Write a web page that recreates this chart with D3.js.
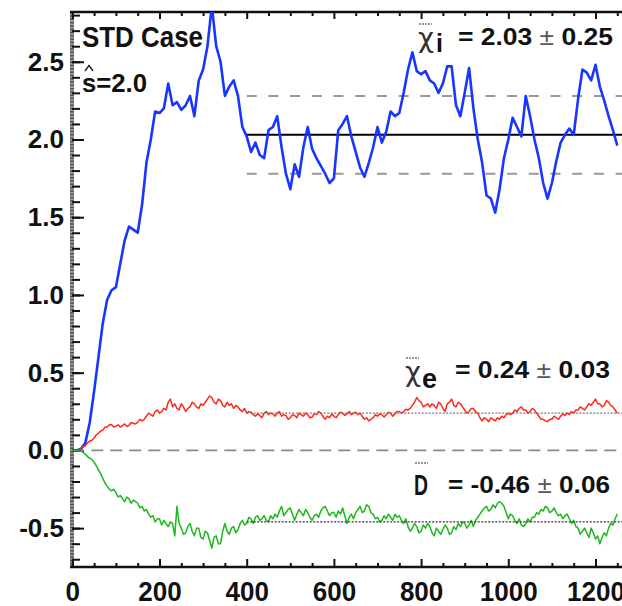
<!DOCTYPE html>
<html>
<head>
<meta charset="utf-8">
<script src="https://cdn.jsdelivr.net/npm/d3@7"></script>
<style>
  html, body { margin: 0; padding: 0; background: #fff; }
  svg { display: block; font-family: "Liberation Sans", Arial, Helvetica, sans-serif; }
</style>
</head>
<body>
<svg id="chart" width="622" height="606"></svg>
<script>
// chi_i sampled every 10 iterations, chi_e and D every 5, all from 0
var stepI = 10, stepED = 5

var chiI = [0, 0, 0.01, 0.05, 0.18, 0.38, 0.6, 0.82, 0.97, 1.03,
  1.05, 1.2, 1.35, 1.44, 1.42, 1.4, 1.58, 1.85, 2.0, 2.18,
  2.17, 2.2, 2.36, 2.22, 2.24, 2.19, 2.22, 2.28, 2.15, 2.38,
  2.45, 2.6, 2.86, 2.6, 2.5, 2.28, 2.34, 2.38, 2.28, 2.08,
  2.02, 1.92, 1.98, 1.9, 1.88, 2.06, 2.08, 2.15, 1.95, 1.78,
  1.68, 1.84, 1.76, 1.95, 2.08, 1.94, 1.88, 1.83, 1.78, 1.72,
  1.75, 2.06, 2.1, 2.15, 2.02, 1.92, 1.82, 1.76, 1.85, 1.95,
  2.08, 1.98, 2.05, 2.18, 2.15, 2.17, 2.3, 2.45, 2.56, 2.44,
  2.42, 2.44, 2.38, 2.36, 2.3, 2.36, 2.47, 2.47, 2.22, 2.15,
  2.3, 2.46, 2.2, 2.0, 1.85, 1.64, 1.62, 1.53, 1.68, 1.88,
  2.0, 2.14, 2.08, 2.02, 2.28, 2.15, 2.0, 1.88, 1.72, 1.62,
  1.72, 1.86, 1.98, 2.03, 2.07, 2.03, 2.26, 2.45, 2.43, 2.38,
  2.48, 2.34, 2.25, 2.15, 2.06, 1.96]

var chiE = [0, 0, 0, 0.005, 0.01, 0.025, 0.03, 0.05, 0.06, 0.065,
  0.08, 0.1, 0.11, 0.125, 0.13, 0.15, 0.15, 0.165, 0.165, 0.15,
  0.155, 0.165, 0.15, 0.16, 0.17, 0.155, 0.16, 0.18, 0.175, 0.17,
  0.18, 0.2, 0.19, 0.2, 0.22, 0.24, 0.23, 0.22, 0.25, 0.26,
  0.24, 0.25, 0.27, 0.26, 0.31, 0.33, 0.28, 0.3, 0.27, 0.26,
  0.3, 0.28, 0.25, 0.27, 0.28, 0.31, 0.3, 0.28, 0.27, 0.3,
  0.29, 0.31, 0.33, 0.35, 0.34, 0.31, 0.3, 0.33, 0.32, 0.29,
  0.28, 0.31, 0.29, 0.3, 0.27, 0.29, 0.28, 0.26, 0.25, 0.27,
  0.24, 0.25, 0.245, 0.23, 0.22, 0.235, 0.225, 0.21, 0.24, 0.25,
  0.23, 0.24, 0.235, 0.22, 0.24, 0.25, 0.22, 0.23, 0.225, 0.2,
  0.21, 0.23, 0.225, 0.21, 0.24, 0.23, 0.22, 0.24, 0.23, 0.21,
  0.215, 0.235, 0.23, 0.25, 0.24, 0.22, 0.2, 0.22, 0.21, 0.235,
  0.22, 0.21, 0.23, 0.245, 0.24, 0.225, 0.235, 0.25, 0.23, 0.24,
  0.245, 0.23, 0.24, 0.22, 0.2, 0.21, 0.19, 0.2, 0.21, 0.23,
  0.22, 0.235, 0.23, 0.215, 0.23, 0.245, 0.24, 0.22, 0.235, 0.25,
  0.25, 0.24, 0.25, 0.265, 0.26, 0.27, 0.29, 0.31, 0.34, 0.32,
  0.31, 0.28, 0.29, 0.3, 0.28, 0.3, 0.29, 0.27, 0.31, 0.3,
  0.27, 0.25, 0.3, 0.31, 0.33, 0.29, 0.28, 0.31, 0.3, 0.28,
  0.26, 0.24, 0.25, 0.27, 0.27, 0.25, 0.24, 0.21, 0.19, 0.21,
  0.2, 0.185, 0.21, 0.2, 0.19, 0.21, 0.2, 0.22, 0.21, 0.23,
  0.24, 0.23, 0.24, 0.26, 0.25, 0.27, 0.28, 0.26, 0.26, 0.24,
  0.25, 0.27, 0.26, 0.24, 0.22, 0.2, 0.2, 0.19, 0.185, 0.2,
  0.2, 0.22, 0.21, 0.2, 0.22, 0.235, 0.225, 0.24, 0.23, 0.25,
  0.24, 0.26, 0.26, 0.28, 0.27, 0.26, 0.28, 0.3, 0.29, 0.31,
  0.33, 0.3, 0.3, 0.28, 0.29, 0.32, 0.31, 0.29, 0.28, 0.26,
  0.24]

var diffD = [0, 0, 0, -0.003, -0.005, -0.015, -0.025, -0.04, -0.05, -0.06,
  -0.075, -0.1, -0.125, -0.15, -0.18, -0.21, -0.23, -0.25, -0.26, -0.25,
  -0.27, -0.3, -0.29, -0.31, -0.33, -0.3, -0.31, -0.34, -0.32, -0.33,
  -0.34, -0.37, -0.36, -0.39, -0.38, -0.41, -0.43, -0.42, -0.46, -0.44,
  -0.44, -0.48, -0.45, -0.47, -0.49, -0.46, -0.47, -0.55, -0.36, -0.47,
  -0.5, -0.54, -0.53, -0.49, -0.47, -0.52, -0.55, -0.5, -0.5, -0.56,
  -0.57, -0.52, -0.53, -0.58, -0.63, -0.56, -0.55, -0.6, -0.6, -0.52,
  -0.47, -0.52, -0.54, -0.5, -0.49, -0.53, -0.51, -0.47, -0.45, -0.48,
  -0.47, -0.43, -0.44, -0.47, -0.43, -0.42, -0.45, -0.44, -0.42, -0.45,
  -0.46, -0.42, -0.44, -0.41, -0.43, -0.39, -0.36, -0.42, -0.4, -0.38,
  -0.37, -0.41, -0.45, -0.41, -0.38, -0.4, -0.42, -0.38, -0.4, -0.43,
  -0.45, -0.42, -0.41, -0.43, -0.39, -0.37, -0.36, -0.39, -0.42, -0.4,
  -0.4, -0.43, -0.39, -0.41, -0.37, -0.42, -0.47, -0.43, -0.41, -0.44,
  -0.4, -0.38, -0.36, -0.4, -0.39, -0.35, -0.36, -0.4, -0.41, -0.44,
  -0.43, -0.46, -0.45, -0.42, -0.44, -0.41, -0.43, -0.45, -0.41, -0.43,
  -0.42, -0.45, -0.47, -0.44, -0.49, -0.52, -0.5, -0.47, -0.49, -0.53,
  -0.52, -0.48, -0.5, -0.47, -0.49, -0.53, -0.55, -0.5, -0.52, -0.54,
  -0.51, -0.48, -0.5, -0.54, -0.53, -0.49, -0.51, -0.47, -0.49, -0.46,
  -0.47, -0.5, -0.48, -0.45, -0.49, -0.45, -0.43, -0.41, -0.39, -0.37,
  -0.36, -0.39, -0.38, -0.35, -0.37, -0.34, -0.33, -0.34, -0.36, -0.4,
  -0.44, -0.41, -0.42, -0.45, -0.47, -0.44, -0.48, -0.49, -0.47, -0.44,
  -0.46, -0.43, -0.43, -0.4, -0.41, -0.38, -0.39, -0.36, -0.37, -0.4,
  -0.39, -0.37, -0.4, -0.42, -0.41, -0.44, -0.42, -0.41, -0.44, -0.47,
  -0.45, -0.49, -0.5, -0.54, -0.52, -0.5, -0.53, -0.56, -0.5, -0.53,
  -0.57, -0.55, -0.6, -0.56, -0.53, -0.55, -0.5, -0.47, -0.48, -0.44,
  -0.41]

var seriesColors = ['#1836ff', '#ff2a1a', '#1cb81c']
var meanValues = [2.03, 0.24, -0.46]
var meanSpreads = [0.25, 0.03, 0.06]
var meanFrom = 400

var xTicks = [0, 200, 400, 600, 800, 1000, 1200]
var yTicks = [-0.5, 0.0, 0.5, 1.0, 1.5, 2.0, 2.5]

var
  svg = d3.select('#chart'),
  x = d3.scaleLinear().domain([0, 1300]).range([72.3, 72.3 + 1300 * 0.436]),
  y = d3.scaleLinear().domain([-0.75, 2.82]).range([567, 12]),
  pLeft = 72, pTop = 12, pBottom = 567, pRight = 640

// plain hyphen minus, like the original
function num(f) {
  return function(d) { return f(d).replace('\u2212', '-') }
}

svg.append('clipPath').attr('id', 'plotclip')
  .append('rect').attr('x', pLeft).attr('y', pTop).attr('width', pRight - pLeft).attr('height', pBottom - pTop)

// minor ticks
var minorX = d3.range(0, 1301, 50).filter(function(d) { return d % 200 != 0 })
var minorY = d3.range(-0.7, 2.81, 0.1).map(function(d) { return Math.round(d * 10) / 10 })

var axes = svg.append('g')

// left axis band (looks hatched in the original)
axes.append('line').attr('x1', pLeft).attr('x2', pLeft).attr('y1', pTop).attr('y2', pBottom)
  .attr('stroke', '#9a9a9a').attr('stroke-width', 4)
axes.append('line').attr('x1', pLeft).attr('x2', pLeft).attr('y1', pTop).attr('y2', pBottom)
  .attr('stroke', '#555').attr('stroke-width', 4).attr('stroke-dasharray', '1.5,1.8')

axes.append('g').attr('transform', 'translate(' + pLeft + ',0)')
  .call(d3.axisLeft(y).tickValues(minorY).tickSize(-8).tickFormat(''))
axes.append('g').attr('class', 'yaxis').attr('transform', 'translate(' + pLeft + ',0)')
  .call(d3.axisLeft(y).tickValues(yTicks).tickSize(-12).tickPadding(8).tickFormat(num(d3.format('.1f'))))

axes.append('g').attr('transform', 'translate(0,' + pBottom + ')')
  .call(d3.axisBottom(x).tickValues(minorX).tickSize(-4).tickFormat(''))
axes.append('g').attr('class', 'xaxis').attr('transform', 'translate(0,' + pBottom + ')')
  .call(d3.axisBottom(x).tickValues(xTicks).tickSize(-8).tickPadding(14).tickFormat(d3.format('d')))

axes.append('g').attr('transform', 'translate(0,' + pTop + ')')
  .call(d3.axisTop(x).tickValues(minorX).tickSize(-4).tickFormat(''))
axes.append('g').attr('transform', 'translate(0,' + pTop + ')')
  .call(d3.axisTop(x).tickValues(xTicks).tickSize(-7).tickFormat(''))

axes.selectAll('.domain').remove()
axes.selectAll('.tick line').attr('stroke', '#111').attr('stroke-width', 2)

axes.selectAll('.yaxis text')
  .attr('font-size', 26).attr('font-weight', 'bold').attr('fill', '#111')
  .attr('font-family', '"Liberation Sans", Arial, sans-serif')
axes.selectAll('.xaxis text')
  .attr('font-size', 28).attr('font-weight', 'bold').attr('fill', '#111')
  .attr('font-family', '"Liberation Sans", Arial, sans-serif')
  .attr('transform', 'scale(0.93,1)')

axes.append('line').attr('x1', pLeft - 2).attr('x2', 622).attr('y1', pBottom).attr('y2', pBottom)
  .attr('stroke', '#111').attr('stroke-width', 2.5)
axes.append('line').attr('x1', pLeft - 2).attr('x2', 622).attr('y1', pTop).attr('y2', pTop)
  .attr('stroke', '#111').attr('stroke-width', 2.5)

var plot = svg.append('g').attr('clip-path', 'url(#plotclip)')

// zero line
plot.append('line').attr('x1', x(0)).attr('x2', x(1300)).attr('y1', y(0)).attr('y2', y(0))
  .attr('stroke', '#8a8a8a').attr('stroke-width', 1.8).attr('stroke-dasharray', '12,7')

// mean and spread of chi_i
plot.append('line').attr('x1', x(meanFrom)).attr('x2', x(1300))
  .attr('y1', y(meanValues[0])).attr('y2', y(meanValues[0]))
  .attr('stroke', '#000').attr('stroke-width', 2)
;[meanValues[0] + meanSpreads[0], meanValues[0] - meanSpreads[0]].forEach(function(v) {
  plot.append('line').attr('x1', x(meanFrom)).attr('x2', x(1300)).attr('y1', y(v)).attr('y2', y(v))
    .attr('stroke', '#999').attr('stroke-width', 2).attr('stroke-dasharray', '10,11.7')
})

function lineFor(step) {
  return d3.line()
    .x(function(d, i) { return x(i * step) })
    .y(function(d) { return y(d) })
}

plot.append('path').datum(chiI).attr('d', lineFor(stepI))
  .attr('fill', 'none').attr('stroke', seriesColors[0]).attr('stroke-width', 2.6).attr('stroke-linejoin', 'round')
plot.append('path').datum(chiE).attr('d', lineFor(stepED))
  .attr('fill', 'none').attr('stroke', seriesColors[1]).attr('stroke-width', 1.5).attr('stroke-linejoin', 'round')
plot.append('path').datum(diffD).attr('d', lineFor(stepED))
  .attr('fill', 'none').attr('stroke', seriesColors[2]).attr('stroke-width', 1.5).attr('stroke-linejoin', 'round')

// dotted means for chi_e and D
;[meanValues[1], meanValues[2]].forEach(function(v, i) {
  plot.append('line').attr('x1', x(meanFrom)).attr('x2', x(1300)).attr('y1', y(v)).attr('y2', y(v))
    .attr('stroke', i == 0 ? '#777' : '#333').attr('stroke-width', 1.2).attr('stroke-dasharray', '2,1.5')
})

// labels
var txt = svg.append('g').attr('fill', '#111').attr('font-weight', 'bold')

txt.append('text').attr('x', 82).attr('y', 47).attr('font-size', 30)
  .attr('textLength', 121).attr('lengthAdjust', 'spacingAndGlyphs').text('STD Case')
txt.append('text').attr('x', 82).attr('y', 92).attr('font-size', 26)
  .attr('textLength', 65).attr('lengthAdjust', 'spacingAndGlyphs').text('s=2.0')
txt.append('path').attr('d', 'M85,71 L89,65.5 L93,71').attr('fill', 'none')
  .attr('stroke', '#222').attr('stroke-width', 1.4)

var fmt = num(d3.format('.2f'))
var statRows = [
  {sym: 'χ', sub: 'i', symX: 418, symY: 47, subX: 436, subY: 52, barY: 24, textX: 458, textY: 45, len: 155},
  {sym: 'χ', sub: 'e', symX: 405, symY: 381, subX: 422, subY: 388, barY: 358, textX: 455, textY: 378, len: 155},
  {sym: 'D', sub: '', symX: 414, symY: 495, subX: 0, subY: 0, barY: 463, textX: 448, textY: 493, len: 162}
]
statRows.forEach(function(r, i) {
  txt.append('text').attr('x', r.symX).attr('y', r.symY)
    .attr('font-size', r.sym == 'D' ? 30 : 27).attr('font-weight', r.sym == 'D' ? 'bold' : 'normal')
    .attr('font-family', r.sym == 'D' ? null : '"DejaVu Sans", sans-serif')
    .attr('fill', r.sym == 'D' ? '#111' : '#333')
    .attr('textLength', r.sym == 'D' ? 14 : 16).attr('lengthAdjust', 'spacingAndGlyphs')
    .text(r.sym)
  if (r.sub) {
    txt.append('text').attr('x', r.subX).attr('y', r.subY).attr('font-size', r.sub == 'e' ? 27 : 25)
      .text(r.sub)
  }
  txt.append('line').attr('x1', r.symX + 1).attr('x2', r.symX + 14).attr('y1', r.barY).attr('y2', r.barY)
    .attr('stroke', '#777').attr('stroke-width', 1.5).attr('stroke-dasharray', '2,1')
  var t = txt.append('text').attr('x', r.textX).attr('y', r.textY).attr('font-size', 24)
    .attr('textLength', r.len).attr('lengthAdjust', 'spacingAndGlyphs')
  t.append('tspan').text('= ' + fmt(meanValues[i]) + ' ')
  t.append('tspan').attr('font-weight', 'normal').attr('fill', '#555').text('±')
  t.append('tspan').text(' ' + fmt(meanSpreads[i]))
})
</script>
</body>
</html>
